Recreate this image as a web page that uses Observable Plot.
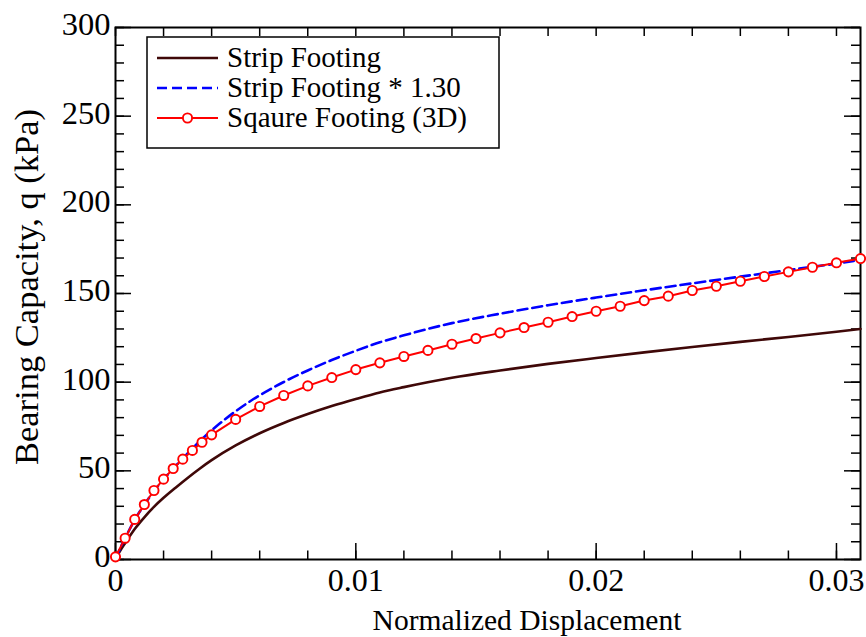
<!DOCTYPE html>
<html>
<head>
<meta charset="utf-8">
<script src="https://cdn.jsdelivr.net/npm/d3@7"></script>
<script src="https://cdn.jsdelivr.net/npm/@observablehq/plot@0.6"></script>
<style>
  html, body { margin: 0; padding: 0; background: white; }
  #chart { width: 866px; height: 637px; }
</style>
</head>
<body>
<div id="chart"></div>
<script>
// ---- data ----
const stripX = [0, 0.0002, 0.0004, 0.0008, 0.0012, 0.0016, 0.002, 0.0025, 0.003, 0.0035, 0.004, 0.005, 0.006, 0.007, 0.008, 0.009, 0.010, 0.011, 0.012, 0.014, 0.016, 0.018, 0.020, 0.022, 0.024, 0.026, 0.028, 0.030, 0.031];
const stripQ = [0, 5, 9.2, 17.2, 23.8, 29.7, 34.8, 40.5, 46, 51.2, 56, 64.3, 71.2, 77, 82, 86.5, 90.5, 94.2, 97.2, 102.5, 106.6, 110.3, 113.6, 116.8, 119.8, 122.7, 125.5, 128.4, 130];
const strip130Q = [0, 6.5, 12, 22.4, 30.9, 38.6, 45.2, 52.7, 59.8, 66.6, 72.8, 83.6, 92.6, 100.1, 106.6, 112.5, 117.7, 122.5, 126.4, 133.3, 138.6, 143.4, 147.7, 151.8, 155.7, 159.5, 163.2, 166.9, 169];
const squareX = [0, 0.0004, 0.0008, 0.0012, 0.0016, 0.002, 0.0024, 0.0028, 0.0032, 0.0036, 0.004, 0.005, 0.006, 0.007, 0.008, 0.009, 0.010, 0.011, 0.012, 0.013, 0.014, 0.015, 0.016, 0.017, 0.018, 0.019, 0.020, 0.021, 0.022, 0.023, 0.024, 0.025, 0.026, 0.027, 0.028, 0.029, 0.030, 0.031];
const squareQ = [1.5, 12, 22.6, 31, 38.9, 45.3, 51.3, 56.6, 61.5, 66.1, 70.3, 79, 86.3, 92.5, 97.9, 102.6, 107.1, 110.9, 114.5, 117.9, 121.4, 124.6, 127.8, 130.8, 133.8, 137, 140, 142.8, 146, 148.5, 151.7, 154.1, 156.9, 159.6, 162.2, 164.8, 167.3, 169.7];

const seriesNames = ["Strip Footing", "Strip Footing * 1.30", "Sqaure Footing (3D)"];
const xTickLabels = [0, 0.01, 0.02, 0.03];
const xMinorTicks = [0, 0.002, 0.004, 0.006, 0.008, 0.010, 0.012, 0.014, 0.016, 0.018, 0.020, 0.022, 0.024, 0.026, 0.028, 0.030];
const yTickLabels = [0, 50, 100, 150, 200, 250, 300];
const yMinorTicks = [0, 10, 20, 30, 40, 50, 60, 70, 80, 90, 100, 110, 120, 130, 140, 150, 160, 170, 180, 190, 200, 210, 220, 230, 240, 250, 260, 270, 280, 290, 300];
const xLabel = "Normalized Displacement";
const yLabel = "Bearing Capacity, q (kPa)";

// ---- tables ----
const strip = stripX.map((x, i) => ({x, q: stripQ[i]}));
const strip130 = stripX.map((x, i) => ({x, q: strip130Q[i]}));
const square = squareX.map((x, i) => ({x, q: squareQ[i]}));

const W = 866, H = 637, mL = 115, mR = 6, mT = 27, mB = 78;
const iw = W - mL - mR, ih = H - mT - mB;
const cStrip = "#3f0808", cDash = "#0000ff", cSq = "#ff0000";
const font = "'Liberation Serif', 'DejaVu Serif', serif";
const fmt = d => d === 0 ? "0" : String(d);

const chart = Plot.plot({
  width: W, height: H,
  marginLeft: mL, marginRight: mR, marginTop: mT, marginBottom: mB,
  x: {domain: [0, 0.031]},
  y: {domain: [0, 300]},
  style: {fontFamily: font, background: "white", color: "black"},
  marks: [
    // inward ticks: bottom
    Plot.ruleX(xMinorTicks, {stroke: "black", strokeWidth: 1.5, insetTop: ih - 8.5}),
    Plot.ruleX(xTickLabels, {stroke: "black", strokeWidth: 1.5, insetTop: ih - 16}),
    // top
    Plot.ruleX(xMinorTicks, {stroke: "black", strokeWidth: 1.5, insetBottom: ih - 9}),
    // left
    Plot.ruleY(yMinorTicks, {stroke: "black", strokeWidth: 1.5, insetRight: iw - 9}),
    Plot.ruleY(yTickLabels, {stroke: "black", strokeWidth: 1.5, insetRight: iw - 16}),
    // right
    Plot.ruleY(yMinorTicks, {stroke: "black", strokeWidth: 1.5, insetLeft: iw - 9}),
    Plot.ruleY(yTickLabels, {stroke: "black", strokeWidth: 1.5, insetLeft: iw - 16}),
    Plot.frame({stroke: "black", strokeWidth: 2}),
    Plot.line(strip, {x: "x", y: "q", stroke: cStrip, strokeWidth: 2.6, curve: "monotone-x"}),
    Plot.line(strip130, {x: "x", y: "q", stroke: cDash, strokeWidth: 2.6, strokeDasharray: "10,5", curve: "monotone-x"}),
    Plot.line(square, {x: "x", y: "q", stroke: cSq, strokeWidth: 2}),
    Plot.dot(square, {x: "x", y: "q", r: 4.6, stroke: cSq, fill: "white", strokeWidth: 1.9}),
    Plot.axisX(xTickLabels, {tickSize: 0, tickPadding: 9, fontSize: 32, tickFormat: fmt, label: null}),
    Plot.axisY(yTickLabels, {tickSize: 0, tickPadding: 5, fontSize: 32.5, tickFormat: fmt, label: null, dy: -3})
  ]
});

const svg = d3.select(chart);
svg.selectAll("text").style("fill", "black");

// axis titles
svg.append("text").attr("x", 527).attr("y", 630).attr("text-anchor", "middle")
  .style("font-family", font).style("font-size", "29.5px").style("fill", "black").text(xLabel);
svg.append("text").attr("transform", "translate(37.5,287) rotate(-90)").attr("text-anchor", "middle")
  .style("font-family", font).style("font-size", "34.5px").style("fill", "black").text(yLabel);

// legend
const lg = svg.append("g");
lg.append("rect").attr("x", 147).attr("y", 37).attr("width", 352).attr("height", 111)
  .attr("fill", "white").attr("stroke", "black").attr("stroke-width", 1.5);
const rows = [
  {name: seriesNames[0], color: cStrip, dash: null, dot: false, w: 2.6},
  {name: seriesNames[1], color: cDash, dash: "10,5", dot: false, w: 2.6},
  {name: seriesNames[2], color: cSq, dash: null, dot: true, w: 2}
];
rows.forEach((r, i) => {
  const y = 58 + i * 30;
  lg.append("line").attr("x1", 157).attr("x2", 218).attr("y1", y).attr("y2", y)
    .attr("stroke", r.color).attr("stroke-width", r.w).attr("stroke-dasharray", r.dash);
  if (r.dot) lg.append("circle").attr("cx", 187.5).attr("cy", y).attr("r", 4.6)
    .attr("fill", "white").attr("stroke", r.color).attr("stroke-width", 1.9);
  lg.append("text").attr("x", 227).attr("y", y + 8.5).attr("text-anchor", "start")
    .style("text-anchor", "start")
    .style("font-family", font).style("font-size", "29px").style("fill", "black").text(r.name);
});

document.getElementById("chart").appendChild(chart);
</script>
</body>
</html>
